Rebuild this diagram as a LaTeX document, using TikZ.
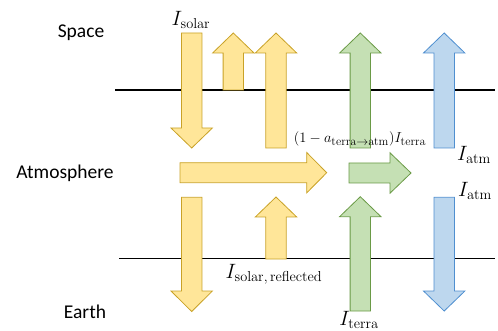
\documentclass[tikz,border=0pt]{standalone}
\usepackage[no-math]{fontspec}
\setmainfont{Carlito}
\DeclareMathSizes{20.5}{20.5}{15.5}{11}
\DeclareMathSizes{15.5}{15.5}{11.8}{9}
\definecolor{yfill}{HTML}{FFE699}
\definecolor{ydraw}{HTML}{C9A227}
\definecolor{gfill}{HTML}{C5E0B4}
\definecolor{gdraw}{HTML}{6A9A46}
\definecolor{bfill}{HTML}{BDD7EE}
\definecolor{bdraw}{HTML}{4F8FD0}
\tikzset{
  yarr/.style={fill=yfill,draw=ydraw,line width=0.8pt,line join=miter},
  garr/.style={fill=gfill,draw=gdraw,line width=0.8pt,line join=miter},
  barr/.style={fill=bfill,draw=bdraw,line width=0.8pt,line join=miter},
  layer/.style={draw=black,line width=1.2pt},
  zone/.style={font=\fontsize{19.5}{22}\selectfont},
  mlab/.style={font=\fontsize{20.5}{23}\selectfont,inner sep=0pt}
}
% vertical arrow: style, cx, start y, head base y, tip y
\newcommand\varr[5]{\draw[#1] ({#2-10.2},#3) -- ({#2+10.2},#3) -- ({#2+10.2},#4) -- ({#2+20.7},#4) -- (#2,#5) -- ({#2-20.7},#4) -- ({#2-10.2},#4) -- cycle;}
% horizontal arrow: style, cy, start x, head base x, tip x
\newcommand\harr[5]{\draw[#1] (#3,{#2-10}) -- (#3,{#2+10}) -- (#4,{#2+10}) -- (#4,{#2+20.2}) -- (#5,#2) -- (#4,{#2-20.2}) -- (#4,{#2-10}) -- cycle;}
\begin{document}
\begin{tikzpicture}[x=1pt,y=-1pt]
\useasboundingbox (0,0) rectangle (498,331);
% layer lines
\draw[layer] (115,90) -- (495,90);
\draw[layer] (119,258.5) -- (495,258.5);
% upper arrows
\varr{yarr}{191.7}{33}{128}{148}
\varr{yarr}{233.3}{90}{53}{33}
\varr{yarr}{276}{148}{53}{33}
\varr{garr}{360.3}{148}{53}{33}
\varr{barr}{444.2}{148}{53}{33}
% horizontal arrows
\harr{yarr}{172.7}{180}{306.7}{326.7}
\harr{garr}{173}{349}{390}{411}
% lower arrows
\varr{yarr}{191.7}{197.3}{291}{311.5}
\varr{yarr}{276}{259}{217}{197}
\varr{garr}{360.3}{311}{216.7}{196.7}
\varr{barr}{444.2}{197.3}{291}{311}
% zone labels
\node[zone] (space) at (81,33) {Space};
\node[zone] (atmos) at (65,173) {Atmosphere};
\node[zone] (earth) at (85,312) {Earth};
% math labels
\node[mlab] (isolar) at (191,20) {$I_{\mathrm{solar}}$};
\node[mlab] (irefl) at (274,274) {$I_{\mathrm{solar,\,reflected}}$};
\node[mlab] (iterra) at (359,320) {$I_{\mathrm{terra}}$};
\node[mlab] (iatm1) at (474,155) {$I_{\mathrm{atm}}$};
\node[mlab] (iatm2) at (475,191) {$I_{\mathrm{atm}}$};
\node[inner sep=0pt,font=\fontsize{15.5}{17}\selectfont] (frac) at (360,139) {$(1-a_{\mathrm{terra}\rightarrow\mathrm{atm}})I_{\mathrm{terra}}$};
\end{tikzpicture}
\end{document}
